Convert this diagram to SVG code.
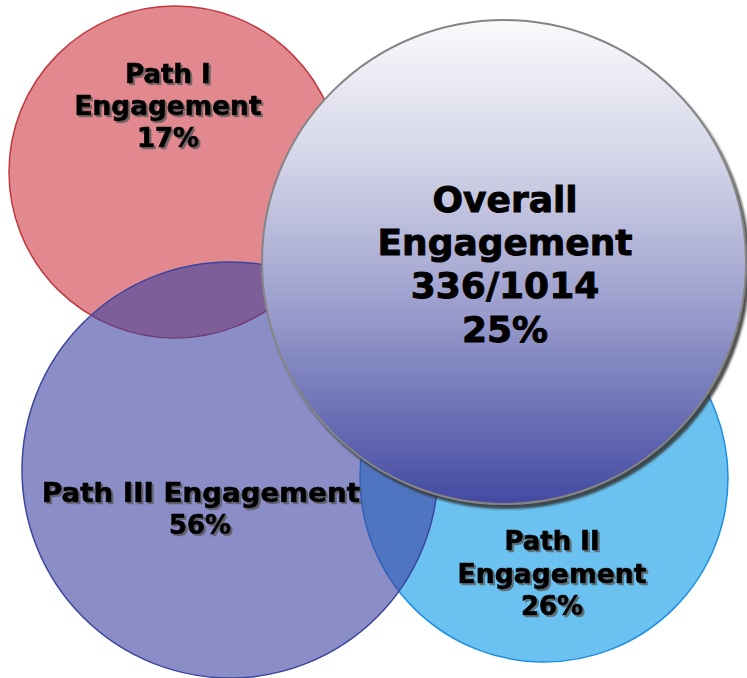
<svg xmlns="http://www.w3.org/2000/svg" width="747" height="678" viewBox="0 0 747 678">
<defs>
<linearGradient id="gOverall" x1="0" y1="0" x2="0" y2="1">
<stop offset="0" stop-color="#fafafc"/>
<stop offset="0.3" stop-color="#d2d3e7"/>
<stop offset="0.6" stop-color="#9a9dcc"/>
<stop offset="1" stop-color="#434aa2"/>
</linearGradient>
<filter id="txtShadow" x="-10%" y="-30%" width="120%" height="160%">
<feDropShadow dx="2" dy="2" stdDeviation="0.7" flood-color="#555" flood-opacity="0.75"/>
</filter>
<filter id="circShadow" x="-10%" y="-10%" width="125%" height="125%">
<feDropShadow dx="3" dy="4" stdDeviation="1.2" flood-color="#333" flood-opacity="0.85"/>
</filter>
<style>
.lbl{font-family:"DejaVu Sans",Verdana,sans-serif;font-weight:bold;font-size:26px;fill:#000;stroke:#000;stroke-width:0.7;text-anchor:middle}
.shd{filter:url(#txtShadow)}
.big{font-size:36px;stroke-width:0.9}
</style>
</defs>
<g id="connectors"></g>
<g id="path1-circle">
<circle cx="175" cy="172" r="166" fill="#c82832" fill-opacity="0.55" stroke="#c0393f" stroke-width="1.5"/>
</g>
<g id="path2-circle">
<circle cx="544" cy="478" r="184" fill="#0096e6" fill-opacity="0.58" stroke="#1e8fe0" stroke-width="1.5"/>
</g>
<g id="path3-circle">
<circle cx="230" cy="470" r="208" fill="#3c41a0" fill-opacity="0.6" stroke="#3a45a0" stroke-width="1.5"/>
</g>
<g id="path1-label" class="shd">
<text class="lbl" x="168" y="83">Path I</text>
<text class="lbl" x="168" y="115" textLength="187" lengthAdjust="spacingAndGlyphs">Engagement</text>
<text class="lbl" x="168" y="147">17%</text>
</g>
<g id="path3-label" class="shd">
<text class="lbl" x="201" y="502" textLength="318" lengthAdjust="spacingAndGlyphs">Path III Engagement</text>
<text class="lbl" x="200" y="534">56%</text>
</g>
<g id="overall">
<circle cx="504" cy="262" r="242" fill="url(#gOverall)" stroke="#858585" stroke-width="2" filter="url(#circShadow)"/>
<text class="lbl big" x="505" y="212">Overall</text>
<text class="lbl big" x="505" y="255" textLength="255" lengthAdjust="spacingAndGlyphs">Engagement</text>
<text class="lbl big" x="505" y="298">336/1014</text>
<text class="lbl big" x="505" y="342">25%</text>
</g>
<g id="path2-label" class="shd">
<text class="lbl" x="552" y="550">Path II</text>
<text class="lbl" x="552" y="583" textLength="189" lengthAdjust="spacingAndGlyphs">Engagement</text>
<text class="lbl" x="552" y="615">26%</text>
</g>
</svg>
